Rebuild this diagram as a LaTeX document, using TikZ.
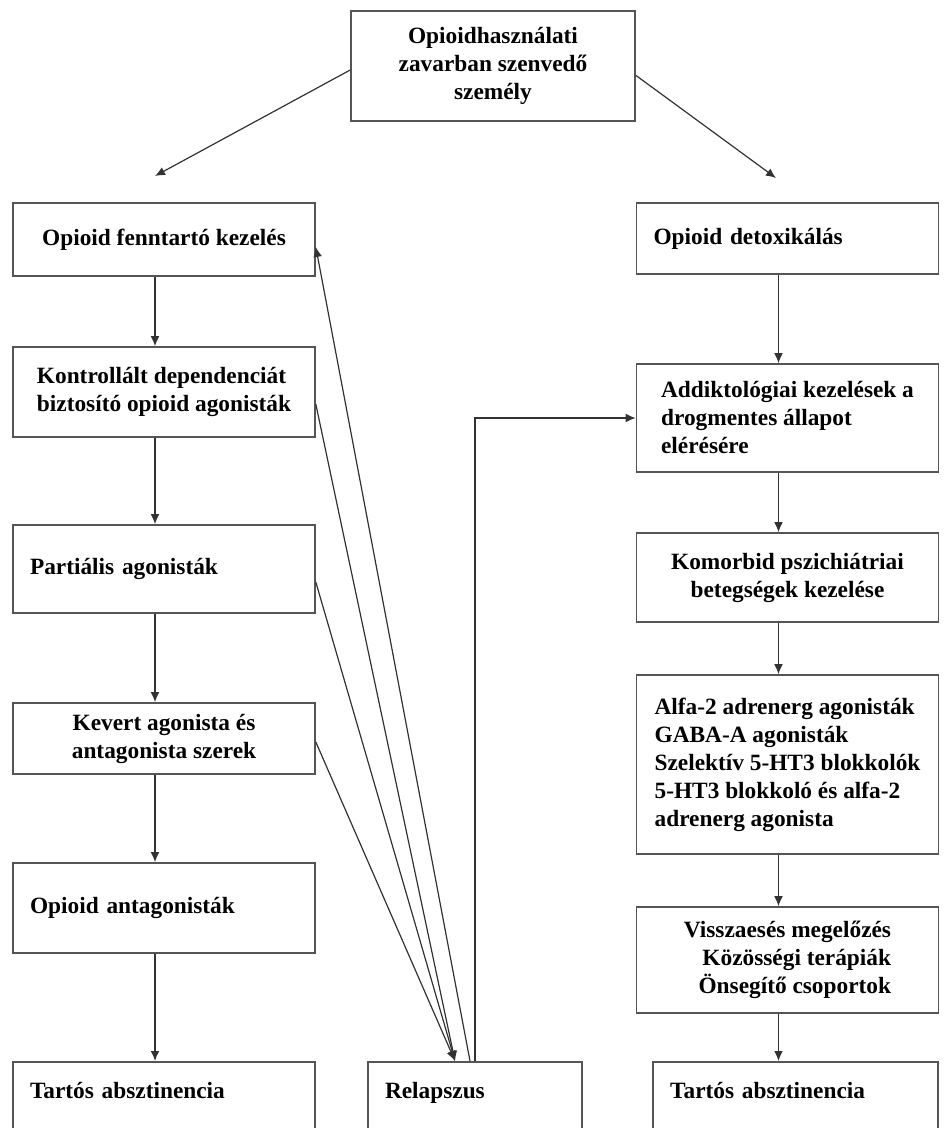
\documentclass[tikz,border=0pt]{standalone}
\usepackage{fontspec}
\setmainfont{Liberation Serif}
\usepackage{xcolor}
\usepackage{tikz}
\usetikzlibrary{calc,arrows.meta,positioning}
\definecolor{edgegray}{RGB}{85,85,85}
\definecolor{linegray}{RGB}{50,50,50}
\tikzset{
  box/.style = {draw=edgegray, line width=1.2pt, fill=white, align=center, inner sep=0pt, font=\fontsize{17.5pt}{21pt}\selectfont\bfseries},
  colbox/.style = {box, minimum width=226.5pt},
  leftbox/.style = {colbox, align=left, text width=201pt},
  openbox/.style = {box, anchor=north, align=left, inner xsep=12.75pt, inner ysep=4pt, text height=23.75pt, text depth=70pt},
  link/.style = {draw=linegray, line width=0.9pt, -{Latex[length=7.5pt,width=6.5pt]}}
}

\begin{document}
\begin{tikzpicture}[x=0.75pt,y=-0.75pt]
  \path[use as bounding box] (0,0) rectangle (944,1128);
  \clip (0,0) rectangle (944,1128);

  % top
  \node[box, minimum width=213pt, minimum height=82.5pt] (top) at (493,66) {Opioidhasználati\\zavarban szenvedő\\személy};

  % left column
  \node[colbox, minimum height=54.75pt] (L1) at (164,239.5) {Opioid fenntartó kezelés};
  \node[colbox, align=left, minimum height=67.5pt] (L2) at (164,392) {Kontrollált dependenciát\\biztosító opioid agonisták};
  \node[leftbox, minimum height=66pt] (L3) at (164,569) {Partiális agonisták};
  \node[colbox, minimum height=53.25pt] (L4) at (164,738.5) {Kevert agonista és\\antagonista szerek};
  \node[leftbox, minimum height=67.5pt] (L5) at (164,908) {Opioid antagonisták};
  \node[openbox, text width=201pt] (L6) at (164,1061) {Tartós absztinencia};

  \node[openbox, text width=135pt] (rel) at (475,1061) {Relapszus};

  % right column
  \node[leftbox, minimum height=53.25pt] (R1) at (787.5,238.5) {Opioid detoxikálás};
  \node[colbox, align=left, minimum height=81pt] (R2) at (787.5,418) {Addiktológiai kezelések a\\drogmentes állapot\\elérésére};
  \node[colbox, minimum height=66.75pt] (R3) at (787.5,577.5) {Komorbid pszichiátriai\\betegségek kezelése};
  \node[colbox, align=left, minimum height=134.25pt] (R4) at (787.5,764.5) {Alfa-2 adrenerg agonisták\\GABA-A agonisták\\Szelektív 5-HT3 blokkolók\\5-HT3 blokkoló és alfa-2\\adrenerg agonista};
  \node[colbox, align=right, minimum height=79.5pt] (R5) at (787.5,960) {Visszaesés megelőzés\\Közösségi terápiák\\Önsegítő csoportok};
  \node[openbox, text width=188pt] (R6) at (795.5,1061) {Tartós absztinencia};

  \coordinate (ltip) at (155,176);
  \coordinate (rtip) at (776,178);
  \draw[link] ([yshift=-3pt]top.west) -- (ltip);
  \draw[link] ([yshift=-7pt]top.east) -- (rtip);

  \foreach \a/\b in {L1/L2,L2/L3,L3/L4,L4/L5,L5/L6,R1/R2,R2/R3,R3/R4,R4/R5,R5/R6}
    \draw[link] ([xshift=-6.75pt]\a.south) -- ([xshift=-6.75pt]\a.south |- \b.north);

  % relapse
  \draw[link] ([yshift=-9pt]L2.east) -- ([xshift=-15pt]rel.north);
  \draw[link] ([yshift=-9.75pt]L3.east) -- ([xshift=-15pt]rel.north);
  \draw[link] ([yshift=-2.6pt]L4.east) -- ([xshift=-15pt]rel.north);
  \draw[link] ([xshift=-3.75pt]rel.north) -- ([yshift=-5.6pt]L1.east);
  \draw[link] (rel.north) |- (R2.west);
\end{tikzpicture}
\end{document}
